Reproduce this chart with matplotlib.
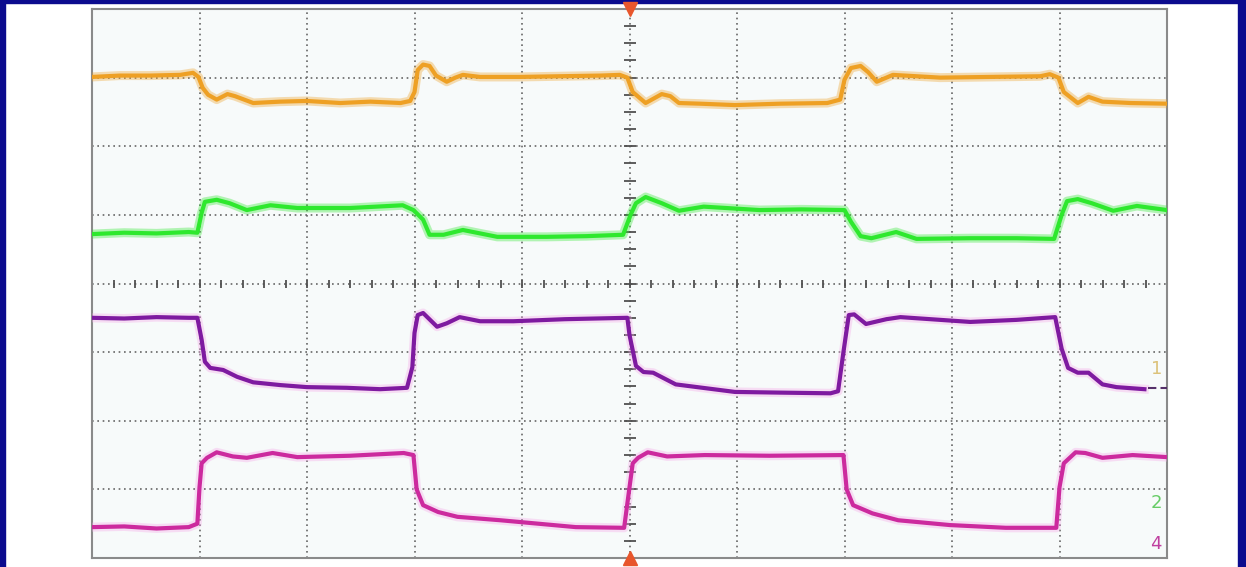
import numpy as np
import matplotlib
matplotlib.use('Agg')
import matplotlib.pyplot as plt
from matplotlib.patches import Rectangle

# screen is 10 x 8 divisions, values below are in divisions
ch1_t = [0, 0.26, 0.54, 0.82, 0.94, 0.99, 1.03, 1.08, 1.16, 1.26, 1.33, 1.50, 1.75, 2.00, 2.31, 2.59, 2.87, 2.96,
         3.00, 3.03, 3.08, 3.14, 3.20, 3.30, 3.38, 3.45, 3.61, 3.98, 4.35, 4.73, 4.91, 4.98, 5.03, 5.15, 5.30, 5.38,
         5.46, 5.66, 5.98, 6.40, 6.84, 6.96, 7.00, 7.06, 7.15, 7.22, 7.30, 7.45, 7.89, 8.35, 8.82, 8.91, 8.99, 9.04,
         9.17, 9.27, 9.40, 9.66, 10.0]
ch1_v = [3.01, 3.03, 3.03, 3.04, 3.07, 3.01, 2.85, 2.75, 2.68, 2.76, 2.73, 2.63, 2.65, 2.66, 2.63, 2.65, 2.63, 2.66,
         2.79, 3.11, 3.19, 3.17, 3.03, 2.94, 3.00, 3.04, 3.01, 3.01, 3.02, 3.03, 3.04, 3.00, 2.79, 2.63, 2.76, 2.73,
         2.63, 2.62, 2.60, 2.62, 2.63, 2.68, 2.97, 3.14, 3.17, 3.08, 2.94, 3.04, 3.00, 3.01, 3.02, 3.05, 3.00, 2.79,
         2.63, 2.72, 2.65, 2.63, 2.62]

ch2_t = [0, 0.3, 0.6, 0.9, 0.98, 1.02, 1.05, 1.16, 1.28, 1.44, 1.66, 1.91, 2.40, 2.89, 2.99, 3.08, 3.14, 3.27, 3.45,
         3.77, 4.23, 4.60, 4.94, 5.01, 5.06, 5.15, 5.30, 5.46, 5.69, 6.21, 6.60, 7.00, 7.06, 7.15, 7.25, 7.48, 7.67,
         8.17, 8.60, 8.95, 9.02, 9.07, 9.17, 9.30, 9.50, 9.72, 10.0]
ch2_v = [0.72, 0.74, 0.73, 0.75, 0.74, 1.03, 1.19, 1.22, 1.17, 1.07, 1.14, 1.10, 1.10, 1.14, 1.07, 0.93, 0.71, 0.71,
         0.78, 0.68, 0.68, 0.69, 0.71, 1.00, 1.17, 1.26, 1.17, 1.06, 1.12, 1.07, 1.08, 1.07, 0.90, 0.69, 0.66, 0.75,
         0.65, 0.66, 0.66, 0.65, 1.00, 1.20, 1.23, 1.17, 1.06, 1.13, 1.07]

ch3_t = [0, 0.3, 0.6, 0.9, 0.98, 1.02, 1.05, 1.10, 1.22, 1.35, 1.50, 1.75, 2.00, 2.37, 2.68, 2.93, 2.98, 3.00, 3.03,
         3.08, 3.21, 3.30, 3.42, 3.61, 3.92, 4.40, 4.98, 5.00, 5.06, 5.13, 5.22, 5.43, 5.98, 6.40, 6.87, 6.94, 6.99,
         7.04, 7.09, 7.20, 7.39, 7.52, 8.17, 8.60, 8.96, 9.02, 9.08, 9.17, 9.27, 9.40, 9.53, 9.79]
ch3_v = [-0.50, -0.51, -0.49, -0.50, -0.50, -0.82, -1.14, -1.23, -1.26, -1.36, -1.44, -1.48, -1.51, -1.52, -1.54,
         -1.52, -1.22, -0.72, -0.46, -0.43, -0.63, -0.58, -0.49, -0.55, -0.55, -0.52, -0.50, -0.75, -1.20, -1.29,
         -1.30, -1.47, -1.58, -1.59, -1.60, -1.57, -1.00, -0.46, -0.45, -0.59, -0.52, -0.49, -0.56, -0.53, -0.49,
         -0.95, -1.23, -1.30, -1.30, -1.47, -1.51, -1.54]

ch4_t = [0, 0.3, 0.6, 0.9, 0.98, 1.00, 1.02, 1.07, 1.16, 1.31, 1.44, 1.68, 1.91, 2.40, 2.90, 2.99, 3.02, 3.08, 3.22,
         3.40, 3.80, 4.50, 4.95, 5.00, 5.03, 5.08, 5.17, 5.35, 5.70, 6.30, 6.99, 7.02, 7.08, 7.26, 7.50, 7.98, 8.50,
         8.97, 9.00, 9.04, 9.15, 9.24, 9.40, 9.68, 10.0]
ch4_v = [-3.55, -3.54, -3.57, -3.55, -3.50, -2.97, -2.62, -2.54, -2.46, -2.52, -2.54, -2.47, -2.53, -2.51, -2.47,
         -2.50, -3.00, -3.23, -3.33, -3.40, -3.45, -3.55, -3.56, -2.97, -2.62, -2.54, -2.46, -2.52, -2.50, -2.51,
         -2.50, -3.00, -3.23, -3.35, -3.45, -3.52, -3.56, -3.56, -2.97, -2.62, -2.46, -2.47, -2.54, -2.50, -2.53]

colors = ['#eea024', '#2ee82e', '#7e1aa0', '#cc2a9e']
labels = ['1', '2', '4']

fig = plt.figure(figsize=(12.46, 5.67), dpi=100)
fig.patch.set_facecolor('white')
# blue frame of the screenshot
blue = '#0b0b8e'
fig.add_artist(Rectangle((0, 0), 5 / 1246, 1, transform=fig.transFigure, color=blue, zorder=0))
fig.add_artist(Rectangle((0, 1 - 3 / 567), 1, 3 / 567, transform=fig.transFigure, color=blue, zorder=0))
fig.add_artist(Rectangle((1 - 8 / 1246, 0), 8 / 1246, 1, transform=fig.transFigure, color=blue, zorder=0))

ax = fig.add_axes([92 / 1246, 9 / 567, 1075 / 1246, 549 / 567])
ax.set_facecolor('#f7fafa')
ax.set_xlim(0, 10)
ax.set_ylim(-4, 4)
ax.set_xticks([])
ax.set_yticks([])
for s in ax.spines.values():
    s.set_color('#8a8a8a')
    s.set_linewidth(1.5)

# graticule
for x in range(1, 10):
    ax.axvline(x, color='#666666', lw=1.2, ls=(0, (1, 2.2)), zorder=1)
for y in range(-3, 4):
    ax.axhline(y, color='#666666', lw=1.2, ls=(0, (1, 2.2)), zorder=1)
ax.plot(np.arange(0.2, 10, 0.2), np.zeros(49), ls='none', marker='|', ms=6, mew=1.3, color='#505050', zorder=1)
ax.plot(np.full(31, 5.0), np.arange(-3.75, 4, 0.25), ls='none', marker='_', ms=8, mew=1.3, color='#505050', zorder=1)

# traces
for t, v, c in [(ch1_t, ch1_v, colors[0]), (ch2_t, ch2_v, colors[1]), (ch3_t, ch3_v, colors[2]), (ch4_t, ch4_v, colors[3])]:
    halo = '#f5a6e8' if c in (colors[2], colors[3]) else c
    ax.plot(t, v, color=halo, lw=6.5, alpha=0.35, solid_joinstyle='round', zorder=3)
    ax.plot(t, v, color=c, lw=3.0, solid_joinstyle='round', zorder=4)

# trigger markers
ax.plot(5, 4, marker='v', ms=10, color='#e8562c', clip_on=False, zorder=6)
ax.plot(5, -4, marker='^', ms=10, color='#e8562c', clip_on=False, zorder=6)

# channel ground markers
ax.plot([9.82, 10.0], [-1.53, -1.53], color='#55306a', lw=1.5, ls=(0, (4, 2)), zorder=5)
ax.text(9.9, -1.25, labels[0], color='#dcc27a', fontsize=13, ha='center', va='center', zorder=5)
ax.text(9.9, -3.2, labels[1], color='#66cc66', fontsize=13, ha='center', va='center', zorder=5)
ax.text(9.9, -3.79, labels[2], color='#c040a0', fontsize=13, ha='center', va='center', zorder=5)

fig.savefig('out.png', dpi=100)
